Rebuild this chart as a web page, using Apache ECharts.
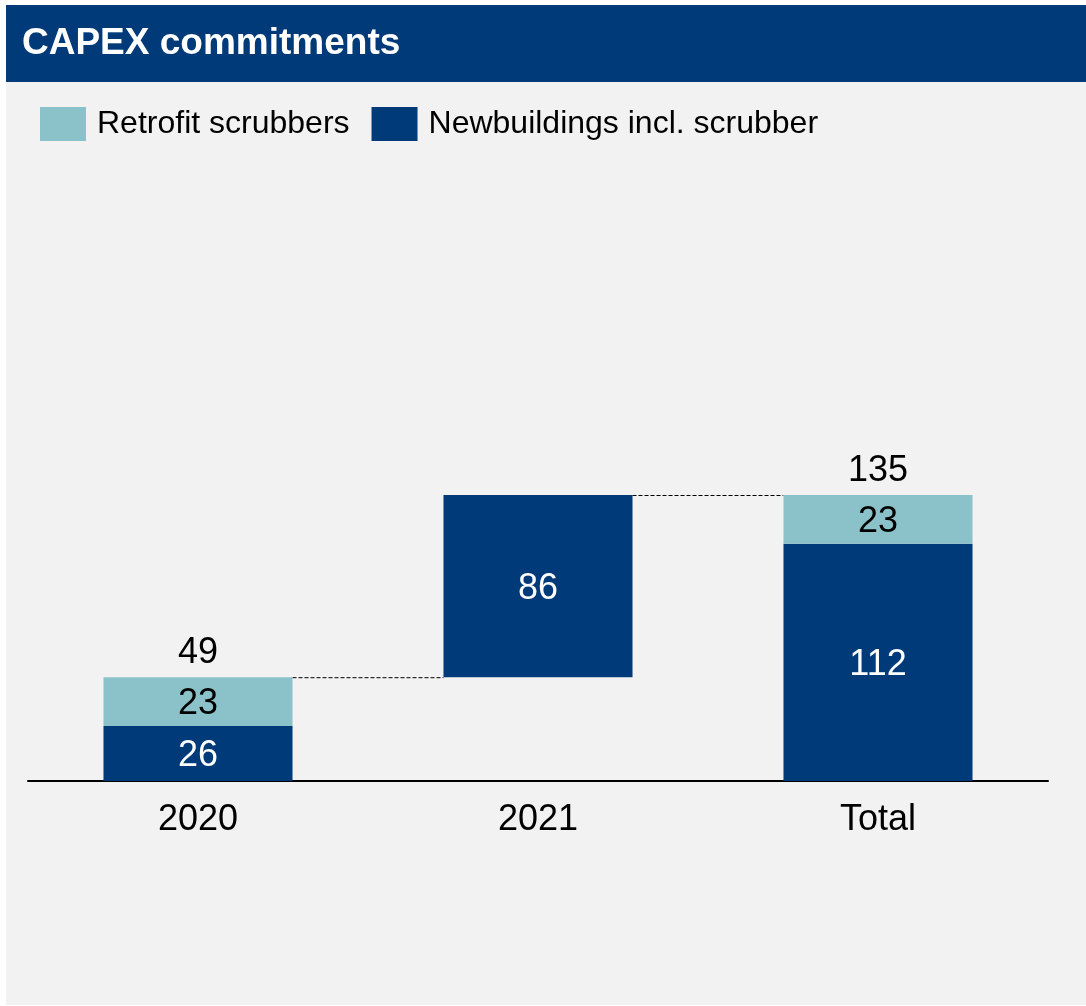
<!DOCTYPE html>
<html>
<head>
<meta charset="utf-8">
<script src="https://cdn.jsdelivr.net/npm/echarts@6/dist/echarts.min.js"></script>
<style>
html,body{margin:0;padding:0;background:#ffffff;}
#chart{width:1086px;height:1006px;}
</style>
</head>
<body>
<div id="chart"></div>
<script>
const categories = ['2020', '2021', 'Total'];
const baseValues = [0, 49, 0];
const newbuildings = [26, 86, 112];
const retrofit = [23, null, 23];
const totals = [49, null, 135];
const connectors = [[0, 49], [1, 135]];

const FONT = '"Liberation Sans", Arial, sans-serif';
const DARK = '#003A79';
const TEAL = '#8BC1C8';
const BAR_RATIO = 0.556;

const chart = echarts.init(document.getElementById('chart'));
chart.setOption({
  animation: false,
  backgroundColor: '#ffffff',
  textStyle: { fontFamily: FONT },
  graphic: [
    { type: 'rect', left: 6, top: 5, shape: { width: 1080, height: 1000 }, style: { fill: '#F2F2F2' }, z: -10 },
    { type: 'rect', left: 6, top: 5, shape: { width: 1080, height: 77 }, style: { fill: DARK }, z: -9 },
    { type: 'text', left: 22, top: 25, style: { text: 'CAPEX commitments', fill: '#ffffff', font: 'bold 37px ' + FONT }, z: 10 }
  ],
  legend: {
    left: 40, top: 107, padding: 0,
    icon: 'rect', itemWidth: 46, itemHeight: 34, itemGap: 22,
    data: ['Retrofit scrubbers', 'Newbuildings incl. scrubber'],
    textStyle: { fontSize: 32, color: '#000', fontFamily: FONT, padding: [0, 0, 0, 6] }
  },
  grid: { left: 28, right: 38, top: 495, bottom: 225, containLabel: false },
  xAxis: {
    type: 'category', data: categories,
    axisLine: { lineStyle: { color: '#000', width: 2 } },
    axisTick: { show: false },
    axisLabel: { fontSize: 36, color: '#000', margin: 21, fontFamily: FONT }
  },
  yAxis: { type: 'value', min: 0, max: 135, show: false, splitLine: { show: false } },
  series: [
    { name: 'base', type: 'bar', stack: 's', barWidth: (BAR_RATIO * 100) + '%', data: baseValues,
      itemStyle: { color: 'transparent' }, silent: true, legendHoverLink: false },
    { name: 'Newbuildings incl. scrubber', type: 'bar', stack: 's', data: newbuildings,
      itemStyle: { color: DARK },
      label: { show: true, position: 'inside', offset: [0, 3], color: '#fff', fontSize: 36, fontFamily: FONT } },
    { name: 'Retrofit scrubbers', type: 'bar', stack: 's', data: retrofit,
      itemStyle: { color: TEAL },
      label: { show: true, position: 'inside', offset: [0, 3], color: '#000', fontSize: 36, fontFamily: FONT } },
    { name: 'totals', type: 'scatter', symbolSize: 0, data: totals,
      itemStyle: { color: 'transparent', opacity: 1 },
      label: { show: true, position: 'top', distance: 6, color: '#000', fontSize: 36, fontFamily: FONT,
        formatter: p => p.value } },
    { name: 'connectors', type: 'custom', data: connectors, z: 1,
      renderItem: function (params, api) {
        const i = api.value(0), v = api.value(1);
        const hw = api.size([1, 0])[0] * BAR_RATIO / 2;
        const a = api.coord([i, v]);
        const b = api.coord([i + 1, v]);
        return { type: 'line', shape: { x1: a[0] + hw, y1: a[1] + 0.5, x2: b[0] - hw, y2: b[1] + 0.5 },
          style: { stroke: '#000', lineWidth: 1, lineDash: [4, 2] } };
      } }
  ]
});
</script>
</body>
</html>
